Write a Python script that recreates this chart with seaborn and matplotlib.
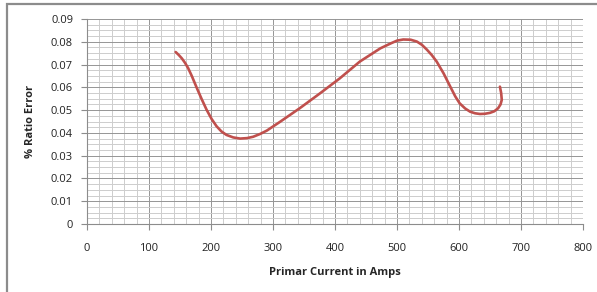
import matplotlib
matplotlib.use("Agg")
import matplotlib.pyplot as plt
from matplotlib.ticker import MultipleLocator
from matplotlib.patches import Rectangle
import seaborn as sns
import pandas as pd

# values (x in amps, y in % ratio error)
current = [143, 148, 153, 158, 163, 169, 177, 185, 193, 201, 209, 217, 225, 236, 247, 258, 268, 279, 290,
           311, 343, 376, 408, 440, 473, 490, 500, 510, 522, 532, 540, 548, 556, 564, 575, 585, 594, 601, 610,
           618, 626, 634, 642, 650, 657, 663, 667, 669, 668, 666]
ratio_error = [0.0755, 0.0742, 0.0727, 0.0708, 0.0685, 0.0650, 0.0598, 0.0548, 0.0501, 0.0461, 0.0429, 0.0406,
               0.0391, 0.0380, 0.0375, 0.0377, 0.0383, 0.0395, 0.0410, 0.0448, 0.0508, 0.0574, 0.0640, 0.0713,
               0.0771, 0.0793, 0.0805, 0.0810, 0.0809, 0.0801, 0.0787, 0.0766, 0.0742, 0.0713, 0.0662, 0.0608,
               0.0560, 0.0530, 0.0507, 0.0493, 0.0486, 0.0483, 0.0484, 0.0488, 0.0495, 0.0508, 0.0525, 0.0545,
               0.0575, 0.0603]

df = pd.DataFrame({"current": current, "error": ratio_error})

sns.set_style("white")
plt.rcParams["font.family"] = ["Open Sans", "DejaVu Sans"]

fig = plt.figure(figsize=(5.97, 2.92), dpi=100)
ax = fig.add_axes([87 / 597, 1 - 224 / 292, 496 / 597, 205 / 292])

sns.lineplot(data=df, x="current", y="error", sort=False, estimator=None,
             color="#C0504D", linewidth=1.9, ax=ax, zorder=5)

ax.set_xlim(0, 800)
ax.set_ylim(0, 0.09)
ax.xaxis.set_major_locator(MultipleLocator(100))
ax.xaxis.set_minor_locator(MultipleLocator(20))
ax.yaxis.set_minor_locator(MultipleLocator(0.0025))
ax.grid(which="major", color="#959595", linewidth=0.7)
ax.grid(which="minor", color="#cdcdcd", linewidth=0.7)
ax.set_axisbelow(True)

ax.set_yticks([i / 100 for i in range(10)])
ax.set_yticklabels(["0"] + [f"0.0{i}" for i in range(1, 10)])

ax.tick_params(axis="both", which="major", labelsize=8, colors="#8c8c8c",
               labelcolor="#222222", length=4, width=0.8, direction="out")
ax.tick_params(axis="x", which="major", pad=10, bottom=True)
ax.tick_params(axis="y", which="major", pad=6, left=True)
ax.tick_params(which="minor", length=0)

for side in ["top", "right"]:
    ax.spines[side].set_visible(False)
for side in ["left", "bottom"]:
    ax.spines[side].set_color("#8c8c8c")
    ax.spines[side].set_linewidth(0.8)

ax.set_xlabel("Primar Current in Amps", fontsize=8, fontweight="bold", labelpad=9)
ax.set_ylabel("% Ratio Error", fontsize=8, fontweight="bold", labelpad=11)

# outer chart frame (only top and left visible in the reference)
fig.patches.append(Rectangle((7 / 597, -0.1), 1.2, 1 - 4 / 292 + 0.1, transform=fig.transFigure,
                             fill=False, edgecolor="#8c8c8c", linewidth=1.6))

fig.savefig("out.png", dpi=100)
